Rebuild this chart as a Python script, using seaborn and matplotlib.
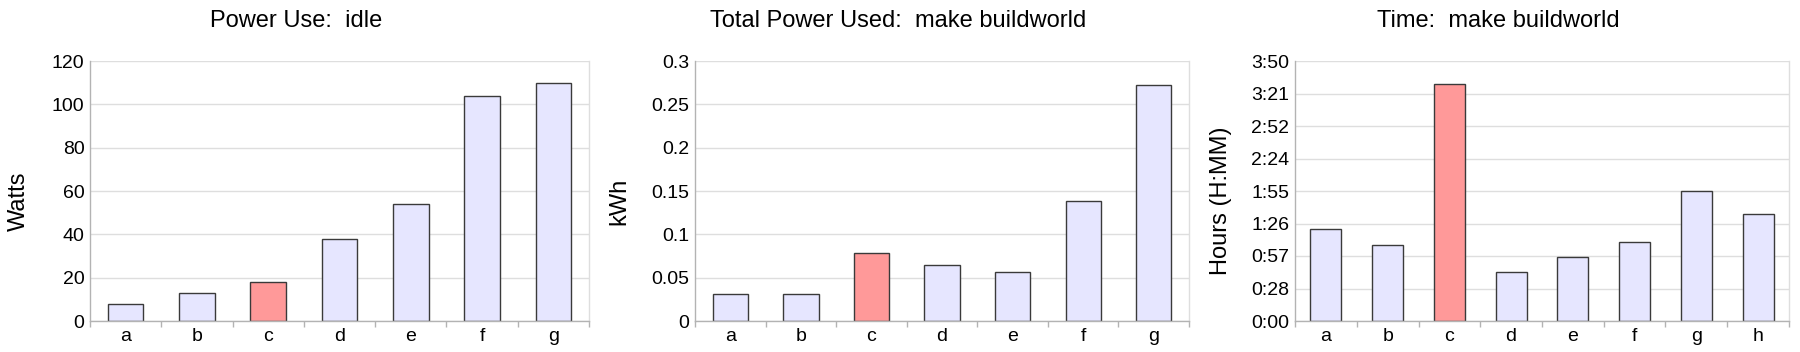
import numpy as np
import pandas as pd
import matplotlib
matplotlib.use("Agg")
import matplotlib.pyplot as plt
import seaborn as sns

# Data
idle_cats = ["a", "b", "c", "d", "e", "f", "g"]
idle_watts = [8, 13, 18, 38, 54, 104, 110]

energy_cats = ["a", "b", "c", "d", "e", "f", "g"]
energy_kwh = [0.031, 0.031, 0.078, 0.065, 0.057, 0.139, 0.272]

time_cats = ["a", "b", "c", "d", "e", "f", "g", "h"]
time_minutes = [81, 67, 210, 43, 57, 70, 115, 95]
time_tick_labels = ["0:00", "0:28", "0:57", "1:26", "1:55", "2:24", "2:52", "3:21", "3:50"]

highlight = "c"

BASE = "#e6e6ff"
HIGH = "#ff9999"
EDGE = "#3a3a3a"
GRID = "#dedede"
AXIS = "#b3b3b3"

sns.set_theme(style="white")
plt.rcParams["font.family"] = ["Liberation Sans", "DejaVu Sans"]

fig = plt.figure(figsize=(18, 3.52), dpi=100)

# axes boxes in pixels (left, right), shared top/bottom
W, H = 1800, 352
top_px, bot_px = 61, 321
boxes = [(90, 589), (695, 1189), (1295, 1789)]
title_x = [296, 898, 1498]
ylabel_x = [19, 619, 1221]


def make_axes(i):
    l, r = boxes[i]
    return fig.add_axes([l / W, 1 - bot_px / H, (r - l) / W, (bot_px - top_px) / H])


def draw(i, cats, vals, title, ylabel, ymax, yticks, ylabels):
    ax = make_axes(i)
    df = pd.DataFrame({"cat": cats, "val": vals})
    pal = {c: (HIGH if c == highlight else BASE) for c in cats}
    sns.barplot(data=df, x="cat", y="val", hue="cat", palette=pal, legend=False,
                width=0.5, edgecolor=EDGE, linewidth=1.0, saturation=1, ax=ax)
    n = len(cats)
    ax.set_xlim(-0.5, n - 0.5)
    ax.set_ylim(0, ymax)
    ax.set_yticks(yticks)
    ax.set_yticklabels(ylabels)
    ax.yaxis.grid(True, color=GRID, linewidth=1)
    ax.set_axisbelow(True)
    ax.set_xticks(np.arange(n + 1) - 0.5, minor=True)
    ax.tick_params(axis="x", which="major", length=0, pad=5, labelsize=14, labelcolor="black")
    ax.tick_params(axis="x", which="minor", length=4, width=1, color=AXIS, direction="out", bottom=True)
    ax.tick_params(axis="y", length=0, pad=4, labelsize=14, labelcolor="black")
    for s in ["left", "bottom"]:
        ax.spines[s].set_color(AXIS)
        ax.spines[s].set_linewidth(1)
    ax.spines["right"].set_color(GRID)
    ax.spines["right"].set_linewidth(1)
    ax.spines["top"].set_visible(False)
    ax.set_xlabel("")
    ax.set_ylabel(ylabel, fontsize=17, color="black")
    l, r = boxes[i]
    ax.yaxis.set_label_coords((ylabel_x[i] - l) / (r - l), (bot_px - 201) / (bot_px - top_px))
    ax.yaxis.label.set_verticalalignment("center")
    fig.text(title_x[i] / W, 1 - 21 / H, title, ha="center", va="center", fontsize=17, color="black")
    return ax


draw(0, idle_cats, idle_watts, "Power Use:  idle", "Watts", 120,
     np.arange(0, 121, 20), [str(v) for v in range(0, 121, 20)])

e_ticks = np.arange(0, 0.301, 0.05)
draw(1, energy_cats, energy_kwh, "Total Power Used:  make buildworld", "kWh", 0.3,
     e_ticks, ["{:g}".format(round(v, 2)) for v in e_ticks])

t_ticks = np.arange(len(time_tick_labels)) * 230 / 8
draw(2, time_cats, time_minutes, "Time:  make buildworld", "Hours (H:MM)", 230,
     t_ticks, time_tick_labels)

fig.savefig("out.png", dpi=100)
